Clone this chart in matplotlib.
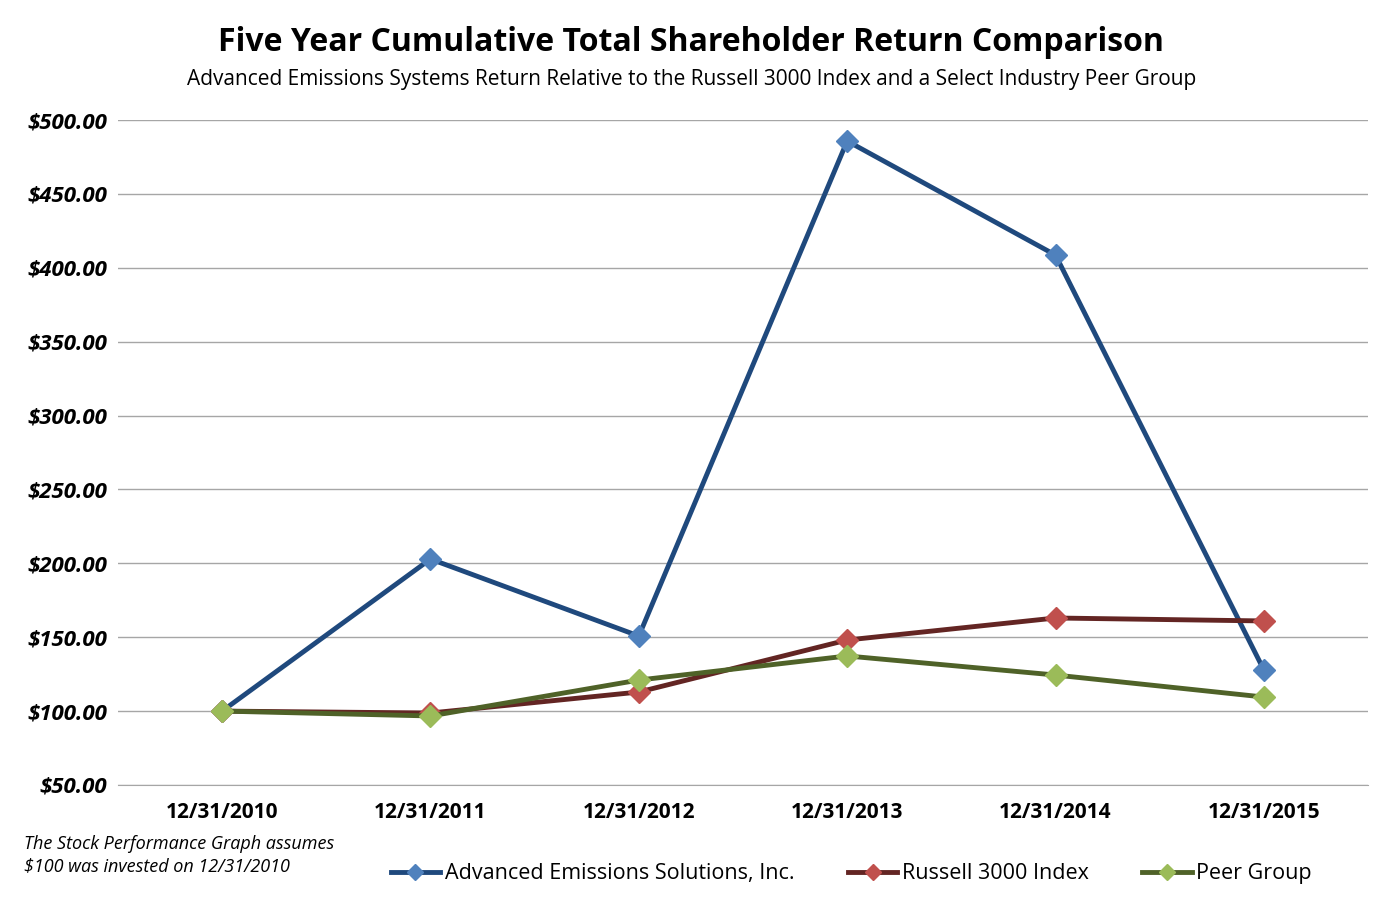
import matplotlib
matplotlib.use("Agg")
import matplotlib.pyplot as plt

dates = ["12/31/2010", "12/31/2011", "12/31/2012", "12/31/2013", "12/31/2014", "12/31/2015"]
ades = [100.0, 202.9, 150.8, 485.8, 408.6, 127.8]
russell = [100.0, 98.7, 112.9, 148.1, 163.0, 161.0]
peer = [100.0, 96.7, 121.0, 137.3, 124.4, 109.5]
yticks = [50, 100, 150, 200, 250, 300, 350, 400, 450, 500]

plt.rcParams["font.family"] = ["Open Sans", "DejaVu Sans"]

fig = plt.figure(figsize=(13.91, 9.1), dpi=100, facecolor="white")
ax = fig.add_axes([0.0848, 0.1374, 0.8987, 0.7307])

x = range(len(dates))
series = [
    (ades, "#1F497D", "#4F81BD", "Advanced Emissions Solutions, Inc."),
    (russell, "#632523", "#C0504D", "Russell 3000 Index"),
    (peer, "#4F6228", "#9BBB59", "Peer Group"),
]
for vals, lc, mc, lab in series:
    ax.plot(x, vals, color=lc, lw=3.5, marker="D", ms=11,
            markerfacecolor=mc, markeredgecolor=mc, label=lab, zorder=3)

ax.set_xlim(-0.5, len(dates) - 0.5)
ax.set_ylim(50, 500)
ax.set_yticks(yticks)
ax.set_yticklabels([f"${v:.2f}" for v in yticks], fontsize=16,
                   fontweight="bold", fontstyle="italic")
ax.set_xticks(list(x))
ax.set_xticklabels(dates, fontsize=15, fontweight="bold")
ax.grid(axis="y", color="#A6A6A6", lw=1)
ax.set_axisbelow(True)
for s in ["top", "right", "left"]:
    ax.spines[s].set_visible(False)
ax.spines["bottom"].set_color("#A6A6A6")
ax.tick_params(axis="both", length=0, pad=12)
ax.tick_params(axis="y", pad=8)

fig.text(0.497, 0.953, "Five Year Cumulative Total Shareholder Return Comparison",
         ha="center", va="center", fontsize=23, fontweight="bold")
fig.text(0.497, 0.913, "Advanced Emissions Systems Return Relative to the Russell 3000 Index and a Select Industry Peer Group",
         ha="center", va="center", fontsize=15)
fig.text(0.017, 0.06, "The Stock Performance Graph assumes\n$100 was invested on 12/31/2010",
         ha="left", va="center", fontsize=13, fontstyle="italic", linespacing=1.3)

leg = fig.legend(loc="center", bbox_to_anchor=(0.612, 0.04), ncol=3, frameon=False,
                 fontsize=15.5, handlelength=2.3, columnspacing=2.5, handletextpad=0.2,
                 markerscale=0.75)

fig.savefig("out.png", dpi=100, facecolor="white")
